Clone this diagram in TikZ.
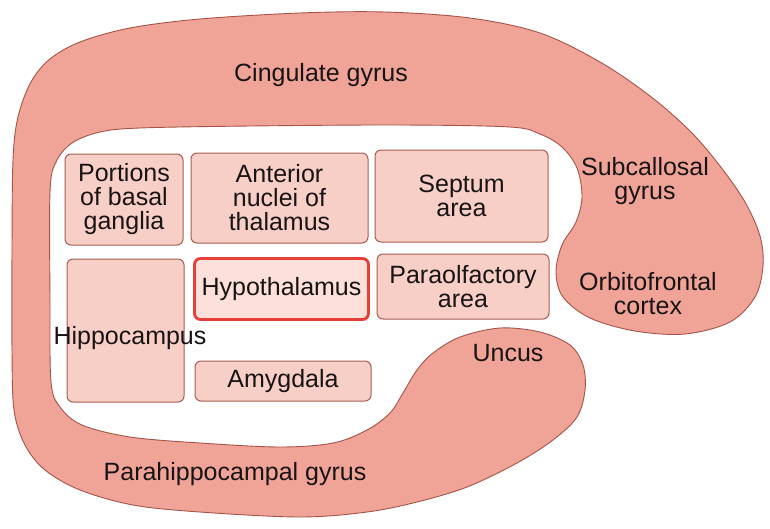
\documentclass[tikz,border=0pt]{standalone}
\usepackage{fontspec}
\setmainfont{Liberation Sans}
\definecolor{lobefill}{RGB}{240,164,152}
\definecolor{lobeline}{RGB}{168,82,72}
\definecolor{boxfill}{RGB}{248,207,199}
\definecolor{boxline}{RGB}{168,92,82}
\definecolor{hypofill}{RGB}{252,224,217}
\definecolor{hypoline}{RGB}{232,62,56}
\definecolor{txt}{RGB}{25,20,20}
\begin{document}
\begin{tikzpicture}[x=1pt,y=-1pt,
  lbl/.style={font=\fontsize{25}{24}\selectfont, text=txt, align=center, inner sep=0pt},
  box/.style={draw=boxline, fill=boxfill, line width=1pt, rounded corners=6pt, inner sep=0pt,
              font=\fontsize{25}{24}\selectfont, text=txt, align=center},
  hypobox/.style={box, draw=hypoline, fill=hypofill, line width=2.8pt},
  lobe/.style={draw=lobeline, fill=lobefill, line width=0.9pt}]
\useasboundingbox[fill=white] (0,0) rectangle (770,528);

% C-shaped limbic lobe
\draw[lobe] plot[smooth cycle, tension=0.55] coordinates {
  (12,250) (13,160) (18,117) (31,82) (50,59) (80,42) (130,28) (200,19) (300,13)
  (385,12) (470,18) (540,33) (600,62) (650,96) (690,131) (720,166) (745,202)
  (760,236) (763,266) (755,297) (730,322) (685,334) (635,331) (590,318)
  (563,297) (556,272) (562,245) (576,222) (582,197) (577,168) (562,147)
  (540,134) (510,127) (400,125) (250,126) (140,128) (100,132) (72,143) (56,162)
  (50,192) (50,300) (51,382) (60,407) (82,425) (130,437) (200,443) (280,447)
  (333,443) (367,430) (390,413) (403,393) (417,370) (433,353) (460,337)
  (500,328) (540,332) (570,345) (583,365) (585,390) (577,417) (553,440)
  (517,463) (467,487) (417,502) (367,512) (300,517) (200,512) (133,505)
  (80,490) (45,470) (25,445) (14,410) (12,350)};

% inner boxes
\node[box, minimum width=118pt, minimum height=91pt] (portions) at (124,199.5) {Portions\\of basal\\ganglia};
\node[box, minimum width=177pt, minimum height=90pt] (anterior) at (279.5,198) {Anterior\\nuclei of\\thalamus};
\node[box, minimum width=173pt, minimum height=92pt] (septum) at (461.5,196) {Septum\\area};
\node[box, minimum width=117pt, minimum height=143pt] (hippobox) at (125.5,330.5) {};
\node[hypobox, minimum width=174pt, minimum height=61pt] (hypo) at (281.5,289) {Hypothalamus};
\node[box, minimum width=172pt, minimum height=65pt] (paraolf) at (463,286.5) {Paraolfactory\\area};
\node[box, minimum width=176pt, minimum height=40pt] (amyg) at (283,381) {Amygdala};

% labels
\node[lbl] (hippo) at (130,338.5) {Hippocampus};
\node[lbl] (cing) at (321,75.5) {Cingulate gyrus};
\node[lbl] (subcal) at (645,181) {Subcallosal\\gyrus};
\node[lbl] (orbito) at (648,293.5) {Orbitofrontal\\cortex};
\node[lbl] (uncus) at (508,353) {Uncus};
\node[lbl] (parahip) at (235,474.5) {Parahippocampal gyrus};
\end{tikzpicture}
\end{document}
